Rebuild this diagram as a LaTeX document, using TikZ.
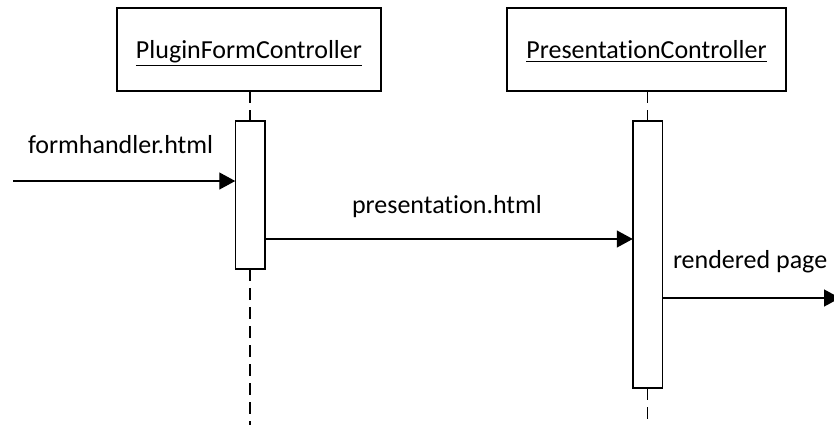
\documentclass[tikz,border=0pt]{standalone}
\usepackage{fontspec}
\setmainfont{Carlito}[Ligatures={NoCommon}]
\usetikzlibrary{arrows.meta}
\begin{document}
\begin{tikzpicture}[x=0.5pt,y=-0.5pt,
  font=\fontsize{13pt}{15pt}\selectfont,
  every node/.style={inner sep=0pt,outer sep=0pt},
  objbox/.style={draw,line width=0.75pt,minimum width=132pt,minimum height=41.5pt},
  actbox/.style={draw,fill=white,line width=0.75pt,minimum width=14.75pt},
  lifeline/.style={line width=0.7pt,dash pattern=on 6pt off 3.5pt},
  msg/.style={line width=0.7pt,-{Triangle[length=8pt,width=8.5pt]}},
  lbl/.style={anchor=base west}]
\useasboundingbox (0,0) rectangle (834,425);
\clip (0,0) rectangle (834,425);

% object heads
\node[objbox] (plugin) at (249,49.5) {};
\node[anchor=base] (pluginname) at (249,58) {\underline{PluginFormController}};
\node[objbox,minimum width=139.5pt] (pres) at (646.5,49.5) {};
\node[anchor=base] (presname) at (646.5,58) {\underline{PresentationController}};

% lifeline end points
\coordinate (pluginend) at (250,425);
\coordinate (presend) at (647.5,425);

% activation bars
\node[actbox,minimum height=74pt] (act1) at (250,195) {};
\node[actbox,minimum height=133.5pt] (act2) at (647.5,254.5) {};

% lifelines
\draw[lifeline] (act1.north |- plugin.south) -- (act1.north);
\draw[lifeline] (act1.south) -- (pluginend);
\draw[lifeline] (act2.north |- pres.south) -- (act2.north);
\draw[lifeline] (act2.south) -- (presend);

% messages
\coordinate (caller) at (13,181);
\coordinate (client) at (840,298);
\draw[msg] (caller) -- (caller -| act1.west);
\node[lbl] (m1) at (28,153) {formhandler.html};

\coordinate (send2) at (265,239);
\draw[msg] (send2 -| act1.east) -- (send2 -| act2.west);
\node[lbl] (m2) at (352,213) {presentation.html};

\draw[msg] (client -| act2.east) -- (client);
\node[lbl] (m3) at (673,268) {rendered page};
\end{tikzpicture}
\end{document}
